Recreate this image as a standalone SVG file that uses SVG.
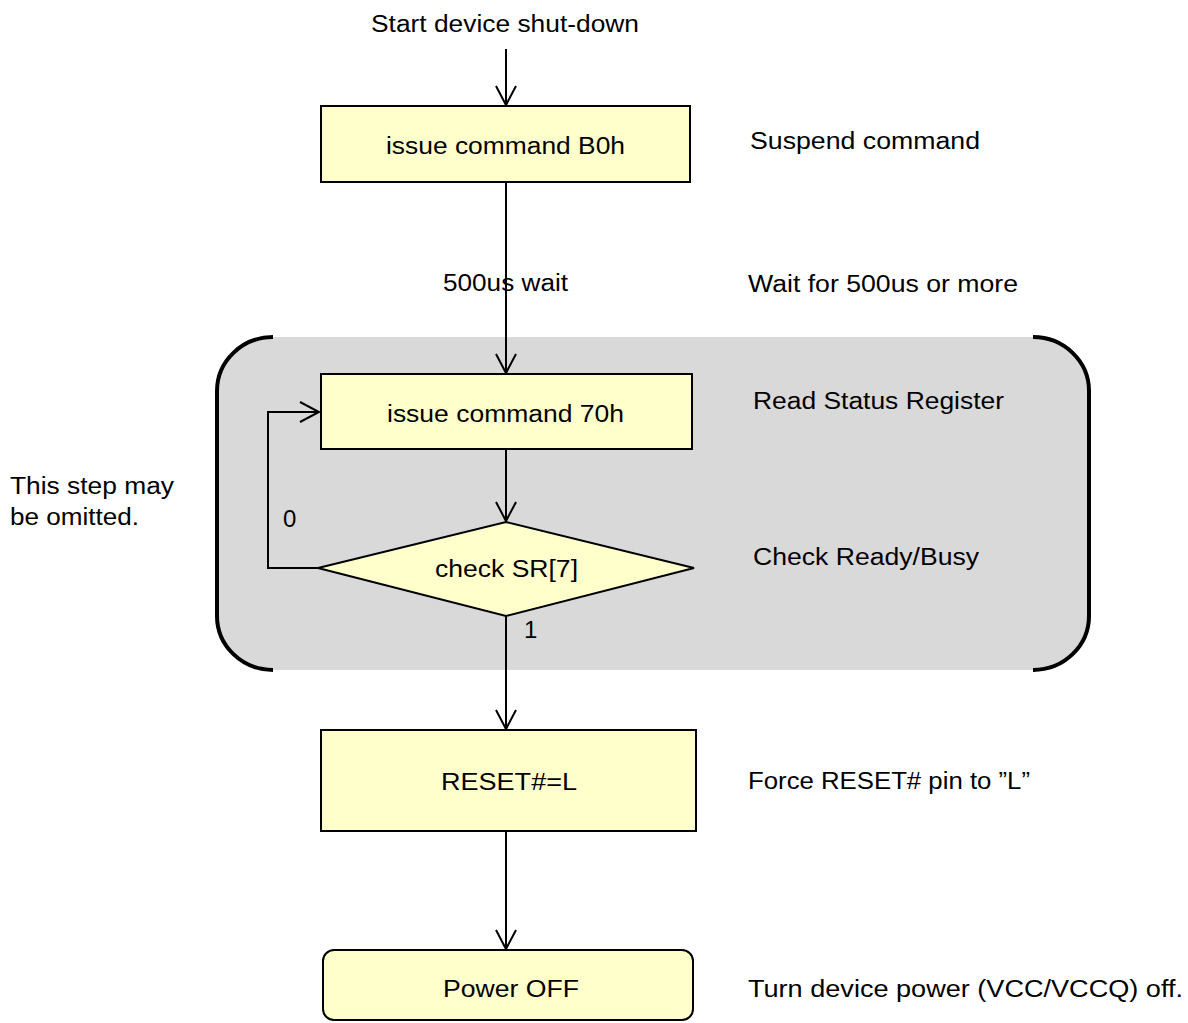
<svg xmlns="http://www.w3.org/2000/svg" width="1188" height="1023" viewBox="0 0 1188 1023">
<style>
text{font-family:"Liberation Sans",Arial,sans-serif;font-size:23px;fill:#000}
.box{fill:#ffffcc;stroke:#000;stroke-width:2}
.ln{fill:none;stroke:#000;stroke-width:2}
.num{font-size:24px}
</style>
<defs>
<marker id="ah" markerUnits="userSpaceOnUse" markerWidth="24" markerHeight="24" viewBox="-21 -12 24 24" refX="0" refY="0" orient="auto">
<path d="M-19,-10 L0,0 L-19,10" fill="none" stroke="#000" stroke-width="2"/>
</marker>
</defs>
<rect width="1188" height="1023" fill="#fff"/>
<g id="group-region">
<path d="M273,337 L1033,337 A56,54 0 0 1 1089,391 L1089,616 A56,54 0 0 1 1033,670 L273,670 A56,54 0 0 1 217,616 L217,391 A56,54 0 0 1 273,337 Z" fill="#d9d9d9"/>
<path d="M273,337 A56,54 0 0 0 217,391 L217,616 A56,54 0 0 0 273,670" fill="none" stroke="#000" stroke-width="4"/>
<path d="M1033,337 A56,54 0 0 1 1089,391 L1089,616 A56,54 0 0 1 1033,670" fill="none" stroke="#000" stroke-width="4"/>
</g>
<g id="connectors">
<line class="ln" x1="506" y1="49" x2="506" y2="105" marker-end="url(#ah)"/>
<line class="ln" x1="506" y1="182" x2="506" y2="373" marker-end="url(#ah)"/>
<line class="ln" x1="506" y1="449" x2="506" y2="521" marker-end="url(#ah)"/>
<line class="ln" x1="506" y1="616" x2="506" y2="729" marker-end="url(#ah)"/>
<polyline class="ln" points="318,568 268,568 268,412 319,412" marker-end="url(#ah)"/>
<line class="ln" x1="506" y1="831" x2="506" y2="949" marker-end="url(#ah)"/>
<text class="num" x="283" y="527">0</text>
<text class="num" x="524" y="638">1</text>
<text x="443" y="291" textLength="125" lengthAdjust="spacingAndGlyphs">500us wait</text>
</g>
<g id="start">
<text x="371" y="32" textLength="268" lengthAdjust="spacingAndGlyphs">Start device shut-down</text>
</g>
<g id="node-b0h">
<rect class="box" x="321" y="106" width="369" height="76"/>
<text x="386" y="154" textLength="239" lengthAdjust="spacingAndGlyphs">issue command B0h</text>
</g>
<g id="node-70h">
<rect class="box" x="321" y="374" width="371" height="75"/>
<text x="387" y="422" textLength="237" lengthAdjust="spacingAndGlyphs">issue command 70h</text>
</g>
<g id="node-check">
<polygon class="box" points="506,522 694,568 506,616 318,568"/>
<text x="435" y="577" textLength="143" lengthAdjust="spacingAndGlyphs">check SR[7]</text>
</g>
<g id="node-reset">
<rect class="box" x="321" y="730" width="375" height="101"/>
<text x="441" y="790" textLength="136" lengthAdjust="spacingAndGlyphs">RESET#=L</text>
</g>
<g id="node-poweroff">
<rect class="box" x="323" y="950" width="370" height="70" rx="11"/>
<text x="443" y="997" textLength="136" lengthAdjust="spacingAndGlyphs">Power OFF</text>
</g>
<g id="annotations">
<text x="750" y="149" textLength="230" lengthAdjust="spacingAndGlyphs">Suspend command</text>
<text x="748" y="292" textLength="270" lengthAdjust="spacingAndGlyphs">Wait for 500us or more</text>
<text x="753" y="409" textLength="251" lengthAdjust="spacingAndGlyphs">Read Status Register</text>
<text x="753" y="565" textLength="226" lengthAdjust="spacingAndGlyphs">Check Ready/Busy</text>
<text x="748" y="789" textLength="282" lengthAdjust="spacingAndGlyphs">Force RESET# pin to ”L”</text>
<text x="748" y="997" textLength="435" lengthAdjust="spacingAndGlyphs">Turn device power (VCC/VCCQ) off.</text>
<text x="10" y="494" textLength="164" lengthAdjust="spacingAndGlyphs">This step may</text>
<text x="10" y="525" textLength="129" lengthAdjust="spacingAndGlyphs">be omitted.</text>
</g>
</svg>
